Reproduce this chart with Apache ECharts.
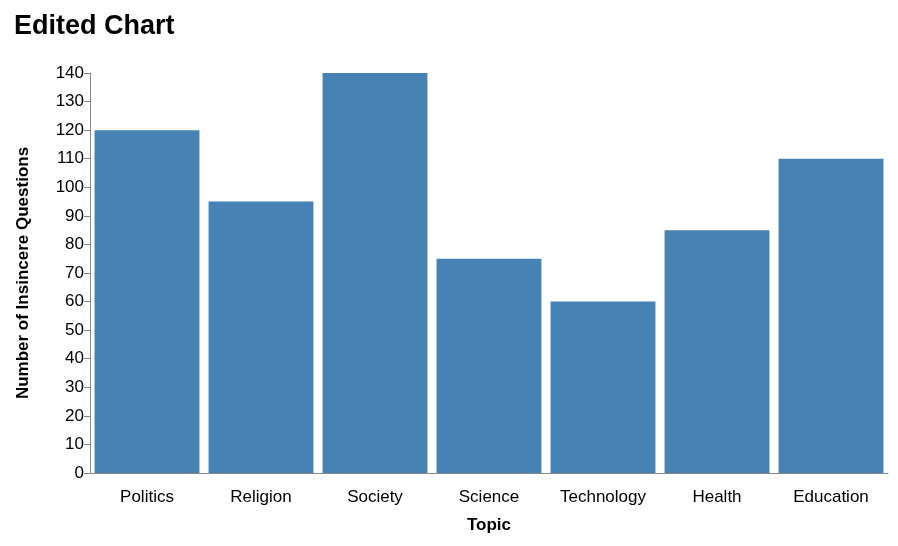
<!DOCTYPE html>
<html>
<head>
<meta charset="utf-8">
<script src="https://cdn.jsdelivr.net/npm/echarts@6/dist/echarts.min.js"></script>
<style>html,body{margin:0;padding:0;background:#fff}#chart{width:898px;height:546px}</style>
</head>
<body>
<div id="chart"></div>
<script>
// 数据
const topics = ['Politics', 'Religion', 'Society', 'Science', 'Technology', 'Health', 'Education'];
const counts = [120, 95, 140, 75, 60, 85, 110];

const chart = echarts.init(document.getElementById('chart'));
const axisColor = '#888';
const option = {
    title: {
        text: 'Edited Chart',
        left: 9,
        top: 8,
        textStyle: { fontFamily: 'Liberation Sans, Arial', fontSize: 27, fontWeight: 'bold', color: '#000' }
    },
    grid: { left: 90, right: 10, top: 73, bottom: 73 },
    xAxis: {
        type: 'category',
        data: topics,
        name: 'Topic',
        nameLocation: 'middle',
        nameGap: 44,
        nameTextStyle: { fontFamily: 'Liberation Sans, Arial', fontSize: 17, fontWeight: 'bold', color: '#000' },
        axisLine: { lineStyle: { color: axisColor } },
        axisTick: { alignWithLabel: true, length: 6, lineStyle: { color: axisColor } },
        axisLabel: { fontFamily: 'Liberation Sans, Arial', fontSize: 17, color: '#000', margin: 16 }
    },
    yAxis: {
        type: 'value',
        min: 0,
        max: 140,
        interval: 10,
        name: 'Number of Insincere Questions',
        nameLocation: 'middle',
        nameGap: 58,
        nameTextStyle: { fontFamily: 'Liberation Sans, Arial', fontSize: 17, fontWeight: 'bold', color: '#000' },
        splitLine: { show: false },
        axisLine: { show: true, lineStyle: { color: axisColor } },
        axisTick: { show: true, length: 6, lineStyle: { color: axisColor } },
        axisLabel: { fontFamily: 'Liberation Sans, Arial', fontSize: 17, color: '#000', margin: 6 }
    },
    series: [{
        type: 'bar',
        data: counts,
        barCategoryGap: '8%',
        itemStyle: { color: '#4682b4' }
    }]
};
chart.setOption(option);
</script>
</body>
</html>
